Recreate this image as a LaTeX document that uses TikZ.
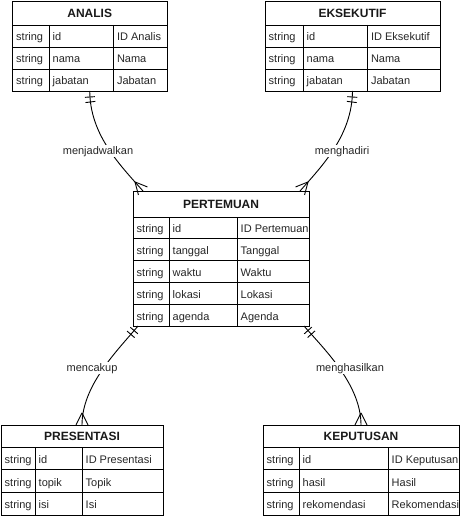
\documentclass[tikz,border=0pt]{standalone}
\usepackage{fontspec}
\setmainfont{Liberation Sans}
\usetikzlibrary{decorations.markings,calc}
\tikzset{
 tbox/.style={draw, line width=0.9pt, inner sep=0pt, outer sep=0pt, rectangle},
 tline/.style={line width=0.9pt},
 ttitle/.style={font=\fontsize{12}{14}\selectfont\bfseries, inner sep=0pt, anchor=base, text=black!90},
 cell/.style={font=\fontsize{11}{13}\selectfont, inner sep=0pt, anchor=base west, text=black!85},
 rel/.style={font=\fontsize{11}{13}\selectfont, fill=white, inner sep=1pt, anchor=base, text=black!85},
 conn/.style={line width=0.9pt, postaction=decorate, decoration={markings,
   mark=at position 6pt with {\draw[line width=0.9pt] (0,-5pt) -- (0,5pt);},
   mark=at position 11pt with {\draw[line width=0.9pt] (0,-5pt) -- (0,5pt);},
   mark=at position 0.999 with {\draw[line width=0.9pt] (-12pt,0) -- (0,6pt) (-12pt,0) -- (0,-6pt);}}},
}
\newcommand\ertable[9]{%
  \node[tbox, anchor=north west, minimum width={(#3-#2)*1pt}, minimum height={(#6-#4)*1pt}] (#1) at (#2,#4) {};
  \node[ttitle] (#1-title) at ({(#2+#3)/2},{(#4+#5)/2+4.6}) {#9};
  \draw[tline] (#7,#5) -- (#7,#6) (#8,#5) -- (#8,#6);
  \gdef\erL{#2}\gdef\erR{#3}\gdef\erT{#5}\gdef\erBot{#6}\gdef\erCa{#7}\gdef\erCb{#8}\gdef\erN{#1}%
}
\newcommand\errows[2]{%
  \pgfmathsetmacro\erRH{(\erBot-\erT)/#1}%
  \foreach \colA/\colB/\colC [count=\i] in {#2} {
    \pgfmathsetmacro\erYT{\erT+(\i-1)*\erRH}
    \pgfmathsetmacro\erYC{\erYT+\erRH/2+5}
    \draw[tline] (\erL,\erYT) -- (\erR,\erYT);
    \node[cell] (\erN-\i-type) at (\erL+3.5,\erYC) {\colA};
    \node[cell] (\erN-\i-field) at (\erCa+3.5,\erYC) {\colB};
    \node[cell] (\erN-\i-label) at (\erCb+3.5,\erYC) {\colC};
  }
}
\begin{document}
\begin{tikzpicture}[x=1pt,y=-1pt]
\useasboundingbox (0,0) rectangle (460,516);
\ertable{analis}{12.5}{167}{1}{25}{91}{49}{113.3}{ANALIS}
\errows{3}{string/id/ID Analis, string/nama/Nama, string/jabatan/Jabatan}
\ertable{eksekutif}{265}{440}{1}{25}{91}{303}{367.3}{EKSEKUTIF}
\errows{3}{string/id/ID Eksekutif, string/nama/Nama, string/jabatan/Jabatan}
\ertable{pertemuan}{133}{309}{191}{217}{326}{169}{237}{PERTEMUAN}
\errows{5}{string/id/ID Pertemuan, string/tanggal/Tanggal, string/waktu/Waktu, string/lokasi/Lokasi, string/agenda/Agenda}
\ertable{presentasi}{1}{163}{425}{447}{515}{35}{82}{PRESENTASI}
\errows{3}{string/id/ID Presentasi, string/topik/Topik, string/isi/Isi}
\ertable{keputusan}{263}{459}{425}{447}{515}{299}{388}{KEPUTUSAN}
\errows{3}{string/id/ID Keputusan, string/hasil/Hasil, string/rekomendasi/Rekomendasi}

\draw[conn] (analis.south) .. controls (90,135) and (120,165) .. ($(pertemuan.north west)+(10,0)$);
\draw[conn] (eksekutif.south) .. controls (352,135) and (323,165) .. ($(pertemuan.north east)+(-9,0)$);
\draw[conn] ($(pertemuan.south west)+(5,0)$) .. controls (118,350) and (82,385) .. (presentasi.north);
\draw[conn] ($(pertemuan.south east)+(-5,0)$) .. controls (325,350) and (361,385) .. (keputusan.north);

\node[rel] (l1) at (98,154) {menjadwalkan};
\node[rel] (l2) at (342,154) {menghadiri};
\node[rel] (l3) at (92,371) {mencakup};
\node[rel] (l4) at (350,371) {menghasilkan};
\end{tikzpicture}
\end{document}
